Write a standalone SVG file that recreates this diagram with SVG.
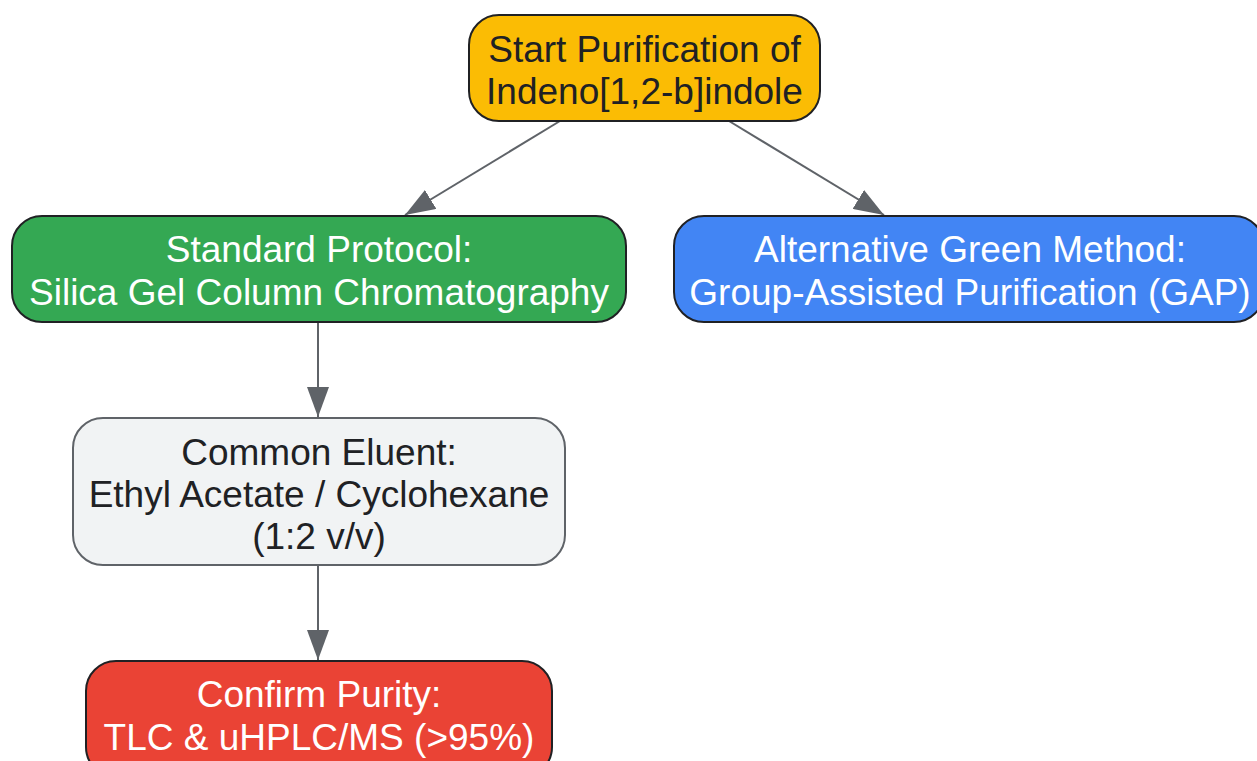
<svg xmlns="http://www.w3.org/2000/svg" width="1257" height="761" viewBox="0 0 1257 761">
<style>
text{font-family:"Liberation Sans",Arial,sans-serif;font-size:37px;text-anchor:middle}
.dark{fill:#202124}
.light{fill:#ffffff}
.edge{stroke:#5F6368;stroke-width:2;fill:none}
</style>
<defs>
<marker id="arr" viewBox="0 0 30 22" refX="30" refY="11" markerWidth="30" markerHeight="22" markerUnits="userSpaceOnUse" orient="auto">
<path d="M0,0 L30,11 L0,22 Z" fill="#5F6368"/>
</marker>
</defs>
<rect width="1257" height="761" fill="#ffffff"/>
<g id="connectors">
<line class="edge" x1="560" y1="121" x2="405" y2="215" marker-end="url(#arr)"/>
<line class="edge" x1="729" y1="121" x2="884" y2="215" marker-end="url(#arr)"/>
<line class="edge" x1="318" y1="322" x2="318" y2="417" marker-end="url(#arr)"/>
<line class="edge" x1="318" y1="565" x2="318" y2="660" marker-end="url(#arr)"/>
</g>
<g id="start">
<rect x="469" y="15" width="351" height="106" rx="30" fill="#FBBC04" stroke="#202124" stroke-width="2"/>
<text class="dark" x="644.5" y="62">Start Purification of</text>
<text class="dark" x="644.5" y="104">Indeno[1,2-b]indole</text>
</g>
<g id="standard">
<rect x="12" y="216" width="614" height="106" rx="30" fill="#34A853" stroke="#202124" stroke-width="2"/>
<text class="light" x="319" y="262">Standard Protocol:</text>
<text class="light" x="319" y="305">Silica Gel Column Chromatography</text>
</g>
<g id="gap">
<rect x="674" y="216" width="590" height="106" rx="30" fill="#4285F4" stroke="#202124" stroke-width="2"/>
<text class="light" x="970" y="262">Alternative Green Method:</text>
<text class="light" x="970" y="305">Group-Assisted Purification (GAP)</text>
</g>
<g id="eluent">
<rect x="73" y="418" width="492" height="147" rx="30" fill="#F1F3F4" stroke="#5F6368" stroke-width="2"/>
<text class="dark" x="319" y="465">Common Eluent:</text>
<text class="dark" x="319" y="507">Ethyl Acetate / Cyclohexane</text>
<text class="dark" x="319" y="549">(1:2 v/v)</text>
</g>
<g id="confirm">
<rect x="86" y="661" width="466" height="116" rx="30" fill="#EA4335" stroke="#202124" stroke-width="2"/>
<text class="light" x="319" y="707">Confirm Purity:</text>
<text class="light" x="319" y="750">TLC &amp; uHPLC/MS (&gt;95%)</text>
</g>
</svg>
